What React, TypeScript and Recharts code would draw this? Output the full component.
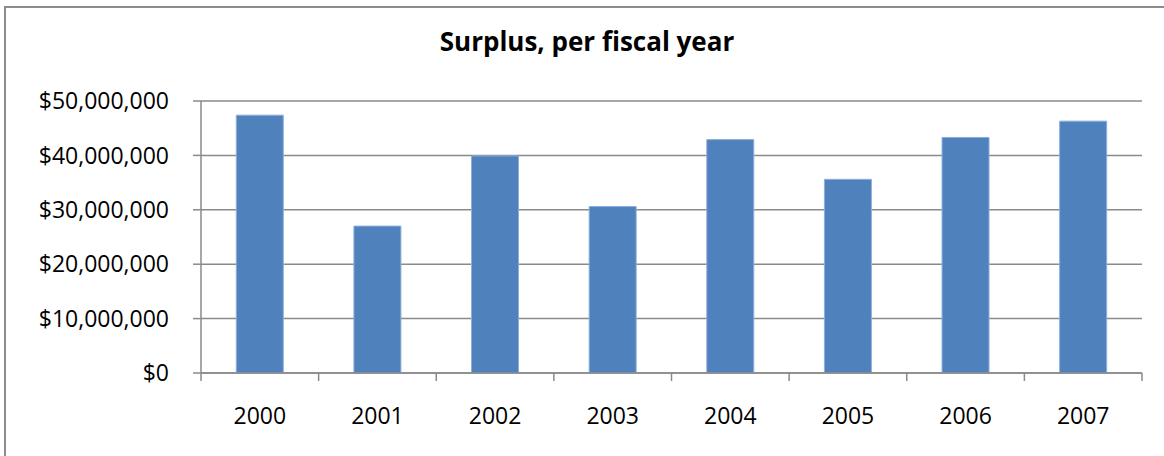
import { BarChart, Bar, CartesianGrid, XAxis, YAxis } from "recharts";

const years = ["2000", "2001", "2002", "2003", "2004", "2005", "2006", "2007"];
const surplus = [
  47400000, 27000000, 39900000, 30600000, 42900000, 35600000, 43300000, 46300000,
];
const yTicks = [0, 10000000, 20000000, 30000000, 40000000, 50000000];

const data = years.map((year, i) => ({ year, surplus: surplus[i] }));

const font = "'Open Sans', sans-serif";
const gray = "#8a8a8a";
const TICK_SIZE = 8;
const TICK_MARGIN = 27;

const money = (v: number) => "$" + v.toLocaleString("en-US");

// category label plus Excel-style tick marks on the category boundaries
function YearTick(props: any) {
  const { x, y, payload, index, visibleTicksCount } = props;
  const half = payload.offset ?? 0;
  const axisY = y - TICK_SIZE - TICK_MARGIN;
  const last = index === visibleTicksCount - 1;
  return (
    <g>
      <line
        x1={x - half}
        x2={x - half}
        y1={axisY}
        y2={axisY + TICK_SIZE}
        stroke={gray}
        strokeWidth={1.5}
      />
      {last && (
        <line
          x1={x + half}
          x2={x + half}
          y1={axisY}
          y2={axisY + TICK_SIZE}
          stroke={gray}
          strokeWidth={1.5}
        />
      )}
      <text
        x={x}
        y={y}
        dy="0.71em"
        textAnchor="middle"
        fill="#000"
        fontSize={23}
        fontFamily={font}
      >
        {payload.value}
      </text>
    </g>
  );
}

export default function App() {
  return (
    <div
      style={{
        position: "absolute",
        left: 0,
        top: 0,
        width: 1164,
        height: 456,
        overflow: "hidden",
        background: "#fff",
        fontFamily: font,
      }}
    >
      <div
        style={{
          position: "absolute",
          left: 4,
          top: 6,
          width: 1180,
          height: 480,
          border: "2px solid #8c8c8c",
        }}
      />
      <div
        style={{
          position: "absolute",
          left: 0,
          width: 1174,
          top: 23,
          textAlign: "center",
          fontSize: 26,
          fontWeight: 700,
          color: "#000",
        }}
      >
        Surplus, per fiscal year
      </div>
      <div style={{ position: "absolute", left: 0, top: 0 }}>
        <BarChart
          width={1164}
          height={456}
          data={data}
          margin={{ top: 101, right: 22, bottom: 10, left: 0 }}
          barCategoryGap="30%"
        >
          <CartesianGrid
            vertical={false}
            stroke={gray}
            strokeWidth={1.5}
          />
          <XAxis
            dataKey="year"
            axisLine={{ stroke: gray, strokeWidth: 1.5 }}
            tickLine={false}
            tickSize={TICK_SIZE}
            tickMargin={TICK_MARGIN}
            height={73}
            interval={0}
            tick={<YearTick />}
          />
          <YAxis
            width={201}
            domain={[0, 50000000]}
            ticks={yTicks}
            tickFormatter={money}
            axisLine={{ stroke: gray, strokeWidth: 1.5 }}
            tickLine={{ stroke: gray, strokeWidth: 1.5 }}
            tickSize={8}
            tickMargin={24}
            tick={{ fill: "#000", fontSize: 23, fontFamily: font }}
          />
          <Bar
            dataKey="surplus"
            fill="#4f81bd"
            stroke="#8eaedb"
            strokeWidth={1}
            isAnimationActive={false}
          />
        </BarChart>
      </div>
    </div>
  );
}
